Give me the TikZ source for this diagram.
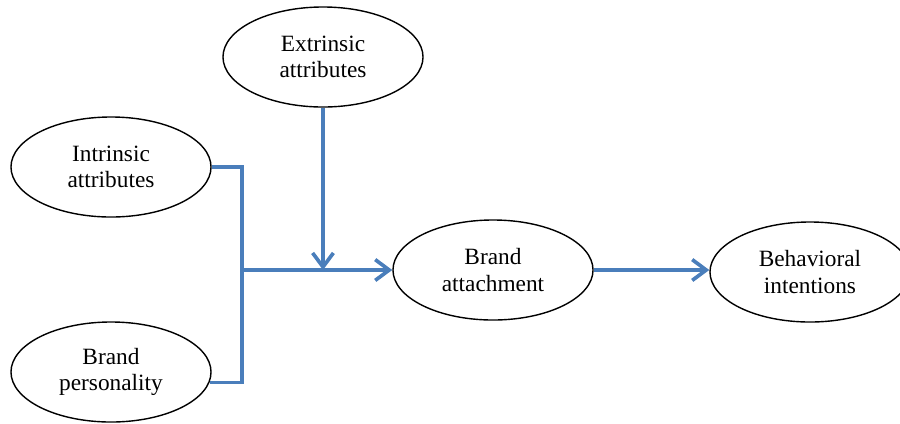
\documentclass[tikz,border=0pt]{standalone}
\usepackage{fontspec}
\setmainfont{Liberation Serif}
\usetikzlibrary{shapes.geometric,arrows.meta}
\definecolor{linkblue}{RGB}{74,126,187}
\tikzset{
  attr/.style={ellipse, draw, line width=1pt, minimum width=5cm,
    minimum height=2.5cm, inner sep=0pt, align=center,
    font=\fontsize{16.6}{19}\selectfont},
  link/.style={draw=linkblue, line width=2.6pt},
  flow/.style={link, -{Straight Barb[length=3.5mm,width=5.2mm]}}
}
\begin{document}
\begin{tikzpicture}[x=0.025cm, y=-0.025cm]
      \useasboundingbox (0,0) rectangle (900,423);
      \node[attr] (ext) at (323,57) {Extrinsic\\attributes};
      \node[attr] (intr) at (111,167) {Intrinsic\\attributes};
      \node[attr] (pers) at (111,372) {Brand\\personality};
      \node[attr] (att) at (493,270) {Brand\\attachment};
      \node[attr] (beh) at (810,272) {Behavioral\\intentions};
      \coordinate (join) at (242,270);
      \begin{scope}[line join=miter]
        \draw[link] (intr.east) -| (join) |- (pers.-6);
        \draw[flow] (join) -- (att);
        \draw[flow] (ext) -- (ext.south |- join);
        \draw[flow] (att) -- (beh.west |- att);
      \end{scope}
    \end{tikzpicture}
\end{document}
